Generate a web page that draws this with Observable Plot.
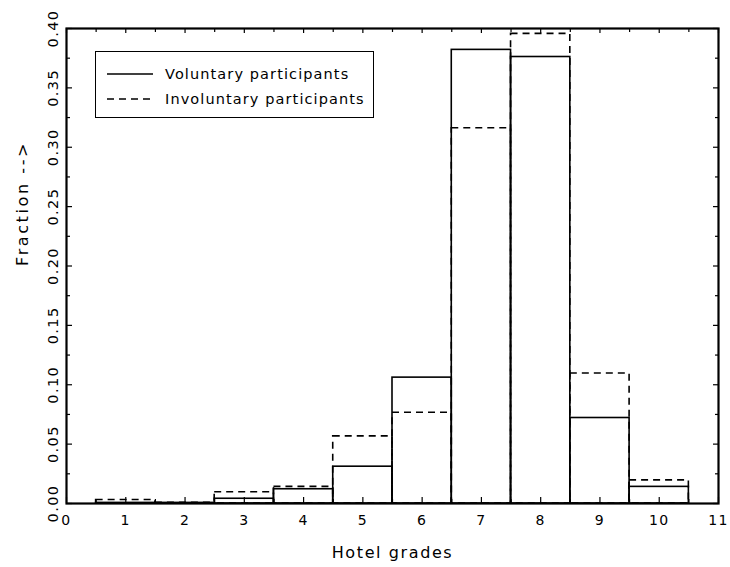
<!DOCTYPE html>
<html>
<head>
<meta charset="utf-8">
<script src="https://cdn.jsdelivr.net/npm/d3@7"></script>
<script src="https://cdn.jsdelivr.net/npm/@observablehq/plot@0.6"></script>
<style>
  html, body { margin: 0; padding: 0; background: #fff; }
  #wrap { position: relative; width: 730px; height: 567px; font-family: "DejaVu Sans", sans-serif; }
  #legend { position: absolute; left: 95px; top: 51px; width: 277px; height: 65px; border: 1px solid #000; background: #fff; }
  #legend svg { position: absolute; left: 0; top: 0; }
</style>
</head>
<body>
<div id="wrap"></div>
<script>
// ---- data ----
const grades = [1, 2, 3, 4, 5, 6, 7, 8, 9, 10];
const voluntary = [0.0005, 0.0005, 0.004, 0.012, 0.031, 0.106, 0.382, 0.376, 0.072, 0.014];
const involuntary = [0.003, 0.0005, 0.0095, 0.014, 0.0565, 0.0764, 0.316, 0.3955, 0.1095, 0.0195];
const seriesNames = ["Voluntary participants", "Involuntary participants"];
const xMajor = [0, 1, 2, 3, 4, 5, 6, 7, 8, 9, 10, 11];
const xMinor = [0.5, 1.5, 2.5, 3.5, 4.5, 5.5, 6.5, 7.5, 8.5, 9.5, 10.5];
const yMajor = [0, 0.05, 0.10, 0.15, 0.20, 0.25, 0.30, 0.35, 0.40];
const yMinor = [0.025, 0.075, 0.125, 0.175, 0.225, 0.275, 0.325, 0.375];
const xTitle = "Hotel grades";
const yTitle = "Fraction -->";

const W = 730, H = 567;
const mL = 66, mR = 12, mT = 28, mB = 64;
const pw = W - mL - mR, ph = H - mT - mB;

const chart = Plot.plot({
  width: W,
  height: H,
  marginLeft: mL, marginRight: mR, marginTop: mT, marginBottom: mB,
  style: { fontFamily: "DejaVu Sans, sans-serif", background: "#fff", color: "#000" },
  x: { domain: [0, 11], axis: null },
  y: { domain: [0, 0.4], axis: null },
  marks: [
    // involuntary (dashed)
    Plot.rect(grades, {
      x1: d => d - 0.5, x2: d => d + 0.5, y1: () => 0, y2: (d, i) => involuntary[i],
      fill: "none", stroke: "#000", strokeWidth: 1.6, strokeDasharray: "7,5"
    }),
    // voluntary (solid)
    Plot.rect(grades, {
      x1: d => d - 0.5, x2: d => d + 0.5, y1: () => 0, y2: (d, i) => voluntary[i],
      fill: "none", stroke: "#000", strokeWidth: 1.6
    }),
    // ticks (inward, all four sides)
    Plot.tickX(xMajor, { x: d => d, insetTop: ph - 6, stroke: "#000", strokeWidth: 1.2 }),
    Plot.tickX(xMinor, { x: d => d, insetTop: ph - 4, stroke: "#000", strokeWidth: 1.2 }),
    Plot.tickX(xMajor, { x: d => d, insetBottom: ph - 5, stroke: "#000", strokeWidth: 1.2 }),
    Plot.tickX(xMinor, { x: d => d, insetBottom: ph - 4, stroke: "#000", strokeWidth: 1.2 }),
    Plot.tickY(yMajor, { y: d => d, insetRight: pw - 6, stroke: "#000", strokeWidth: 1.2 }),
    Plot.tickY(yMinor, { y: d => d, insetRight: pw - 4, stroke: "#000", strokeWidth: 1.2 }),
    Plot.tickY(yMajor, { y: d => d, insetLeft: pw - 5, stroke: "#000", strokeWidth: 1.2 }),
    Plot.tickY(yMinor, { y: d => d, insetLeft: pw - 3, stroke: "#000", strokeWidth: 1.2 }),
    Plot.frame({ stroke: "#000", strokeWidth: 2.2 }),
    // tick labels
    Plot.text(xMajor, {
      x: d => d, text: d => String(d), frameAnchor: "bottom", dy: 17,
      fontSize: 14, fill: "#000", lineAnchor: "middle", className: "lbl-small"
    }),
    Plot.text(yMajor, {
      y: d => d, text: d => d.toFixed(2), frameAnchor: "left", dx: -13, rotate: -90,
      textAnchor: "middle", lineAnchor: "middle", fontSize: 14.5, fill: "#000", className: "lbl-small"
    }),
    // axis titles
    Plot.text([xTitle], {
      text: d => d, frameAnchor: "bottom", dy: 49, fontSize: 16, fill: "#000", lineAnchor: "middle", className: "lbl-x"
    }),
    Plot.text([yTitle], {
      text: d => d, frameAnchor: "left", dx: -44, rotate: -90, fontSize: 16, fill: "#000", lineAnchor: "middle", className: "lbl-y"
    })
  ]
});
chart.querySelectorAll(".lbl-small text").forEach(t => { t.style.letterSpacing = "1.4px"; });
chart.querySelectorAll(".lbl-x text").forEach(t => { t.style.letterSpacing = "1.6px"; });
chart.querySelectorAll(".lbl-y text").forEach(t => { t.style.letterSpacing = "2.6px"; });

const wrap = document.getElementById("wrap");
wrap.appendChild(chart);

// legend box
const legend = document.createElement("div");
legend.id = "legend";
const dashes = [null, "7,5"];
const ns = "http://www.w3.org/2000/svg";
const lsvg = document.createElementNS(ns, "svg");
lsvg.setAttribute("width", 277);
lsvg.setAttribute("height", 65);
seriesNames.forEach((name, i) => {
  const cy = 22 + i * 25;
  const ln = document.createElementNS(ns, "line");
  ln.setAttribute("x1", 11); ln.setAttribute("x2", 57);
  ln.setAttribute("y1", cy); ln.setAttribute("y2", cy);
  ln.setAttribute("stroke", "#000"); ln.setAttribute("stroke-width", 1.6);
  if (dashes[i]) ln.setAttribute("stroke-dasharray", dashes[i]);
  lsvg.appendChild(ln);
  const tx = document.createElementNS(ns, "text");
  tx.setAttribute("x", 69); tx.setAttribute("y", cy);
  tx.setAttribute("dy", "0.36em");
  tx.setAttribute("font-size", 14.5);
  tx.setAttribute("font-family", "DejaVu Sans, sans-serif");
  tx.setAttribute("fill", "#000");
  tx.style.letterSpacing = "1.1px";
  tx.textContent = name;
  lsvg.appendChild(tx);
});
legend.appendChild(lsvg);
wrap.appendChild(legend);
</script>
</body>
</html>
